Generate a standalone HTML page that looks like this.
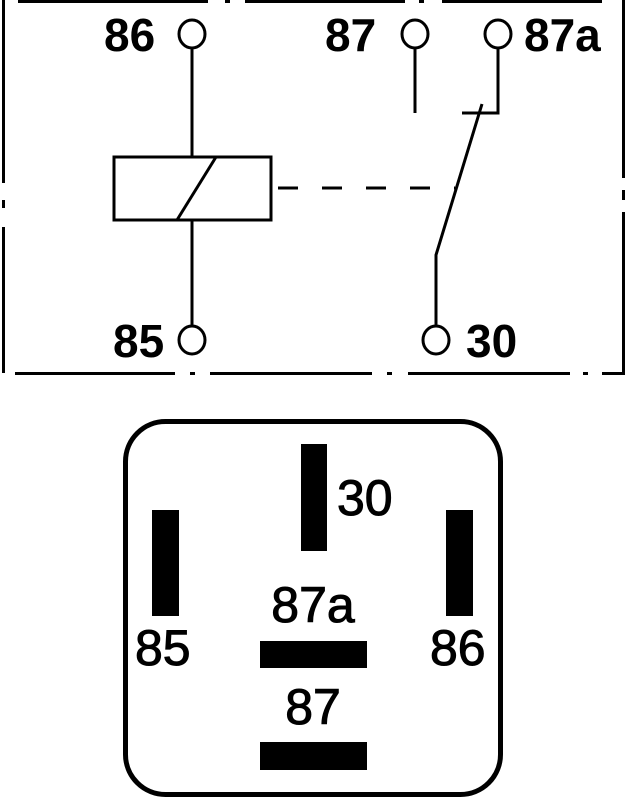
<!DOCTYPE html>
<html><head><style>
html,body{margin:0;padding:0;background:#fff;}
svg{display:block;}
</style></head><body>
<svg width="627" height="800" viewBox="0 0 627 800" xmlns="http://www.w3.org/2000/svg">
<g stroke="#000" stroke-width="3" fill="none">
 <!-- dash-dot border -->
 <line x1="18" y1="1.5" x2="208" y2="1.5"/><line x1="225" y1="1.5" x2="230" y2="1.5"/>
 <line x1="245" y1="1.5" x2="405" y2="1.5"/><line x1="419" y1="1.5" x2="424" y2="1.5"/>
 <line x1="442" y1="1.5" x2="602" y2="1.5"/>
 <line x1="3.5" y1="0" x2="3.5" y2="183"/><line x1="3.5" y1="200" x2="3.5" y2="208"/>
 <line x1="3.5" y1="227" x2="3.5" y2="373"/>
 <line x1="623.5" y1="0" x2="623.5" y2="178"/><line x1="623.5" y1="190" x2="623.5" y2="200"/>
 <line x1="623.5" y1="212" x2="623.5" y2="374"/>
 <line x1="15" y1="373.5" x2="175" y2="373.5"/><line x1="190" y1="373.5" x2="195" y2="373.5"/>
 <line x1="210" y1="373.5" x2="372" y2="373.5"/><line x1="387" y1="373.5" x2="392" y2="373.5"/>
 <line x1="408" y1="373.5" x2="570" y2="373.5"/><line x1="583" y1="373.5" x2="588" y2="373.5"/>
 <line x1="602" y1="373.5" x2="625" y2="373.5"/>
 <!-- coil -->
 <line x1="192" y1="48" x2="192" y2="157"/>
 <line x1="192" y1="220" x2="192" y2="326"/>
 <rect x="114" y="157" width="157" height="63"/>
 <line x1="216" y1="157" x2="177" y2="220"/>
 <line x1="271" y1="188" x2="455" y2="188" stroke-dasharray="20,24" stroke-dashoffset="-7"/>
 <!-- contacts -->
 <line x1="415" y1="48" x2="415" y2="113"/>
 <polyline points="498,48 498,113 462,113"/>
 <polyline points="482,104 436,255 436,326"/>
 <ellipse cx="192" cy="34" rx="13" ry="14"/>
 <ellipse cx="415" cy="34" rx="13" ry="14"/>
 <ellipse cx="498" cy="34" rx="13" ry="14"/>
 <ellipse cx="192" cy="340" rx="13" ry="14"/>
 <ellipse cx="436" cy="340" rx="13" ry="14"/>
 <!-- package -->
 <rect x="125.5" y="421.5" width="375" height="373" rx="40" stroke-width="5"/>
</g>
<g fill="#000">
 <rect x="301" y="444" width="26" height="107"/>
 <rect x="152" y="510" width="27" height="106"/>
 <rect x="446" y="510" width="27" height="106"/>
 <rect x="260" y="641" width="107" height="27"/>
 <rect x="260" y="742" width="107" height="28"/>
</g>
<g font-family="Liberation Sans, sans-serif" font-weight="bold" font-size="46" fill="#000">
 <text x="104" y="51">86</text>
 <text x="325" y="51">87</text>
 <text x="524" y="51">87a</text>
 <text x="113" y="357">85</text>
 <text x="466" y="357">30</text>
</g>
<g font-family="Liberation Sans, sans-serif" font-size="50" fill="#000" stroke="#000" stroke-width="1">
 <text x="337" y="515">30</text>
 <text x="135" y="665">85</text>
 <text x="430" y="665">86</text>
 <text x="313" y="622" text-anchor="middle">87a</text>
 <text x="313" y="724" text-anchor="middle">87</text>
</g>
</svg>
</body></html>
